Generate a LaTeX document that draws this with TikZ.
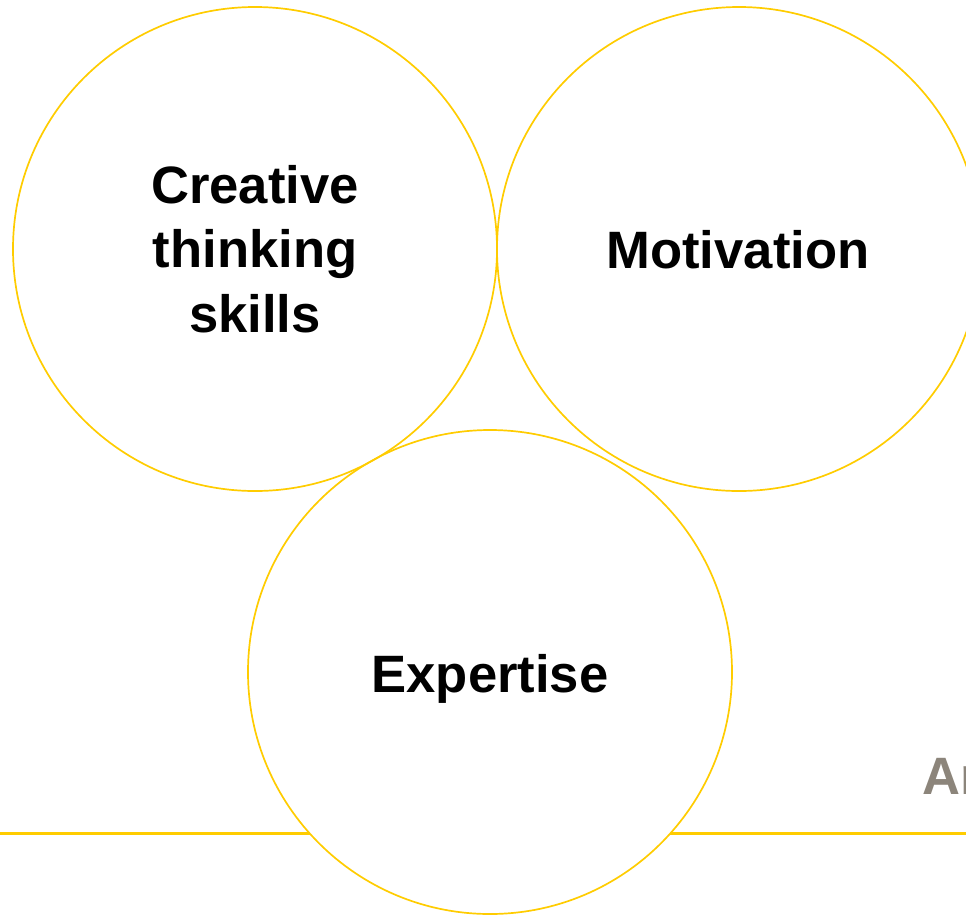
\documentclass[tikz,border=0pt]{standalone}
\usepackage{fontspec}
\setmainfont{Liberation Sans}
\definecolor{ringyellow}{RGB}{255,204,0}
\definecolor{graytext}{RGB}{140,133,123}
\begin{document}
\begin{tikzpicture}[x=1pt,y=-1pt,
  ring/.style={draw=ringyellow,line width=1.7pt},
  label/.style={font=\fontsize{52.6}{64.5}\selectfont\bfseries,text=black,align=center,inner sep=0pt},
  rule/.style={draw=ringyellow,line width=2.2pt}]
\useasboundingbox (0,0) rectangle (966,914);
\clip (0,0) rectangle (966,914);
\coordinate (ruleL) at (0,833.5);
\coordinate (ruleR) at (966,833.5);
\draw[rule] (ruleL) -- (ruleR);
\node[label,text=graytext,anchor=base west] (ar) at (922,794) {Ar};
\fill[white] (490,672) circle[radius=242];
\node[ring,circle,minimum size=484pt,inner sep=0pt] (creative) at (255,249) {};
\node[ring,circle,minimum size=484pt,inner sep=0pt] (motivation) at (739,249) {};
\node[ring,circle,minimum size=484pt,inner sep=0pt] (expertise) at (490,672) {};
\node[label,anchor=center] (tcreative) at (255,249) {Creative\\thinking\\skills};
\node[label,anchor=base] (tmotivation) at (738,268) {Motivation};
\node[label,anchor=base] (texpertise) at (490,692) {Expertise};
\end{tikzpicture}
\end{document}
